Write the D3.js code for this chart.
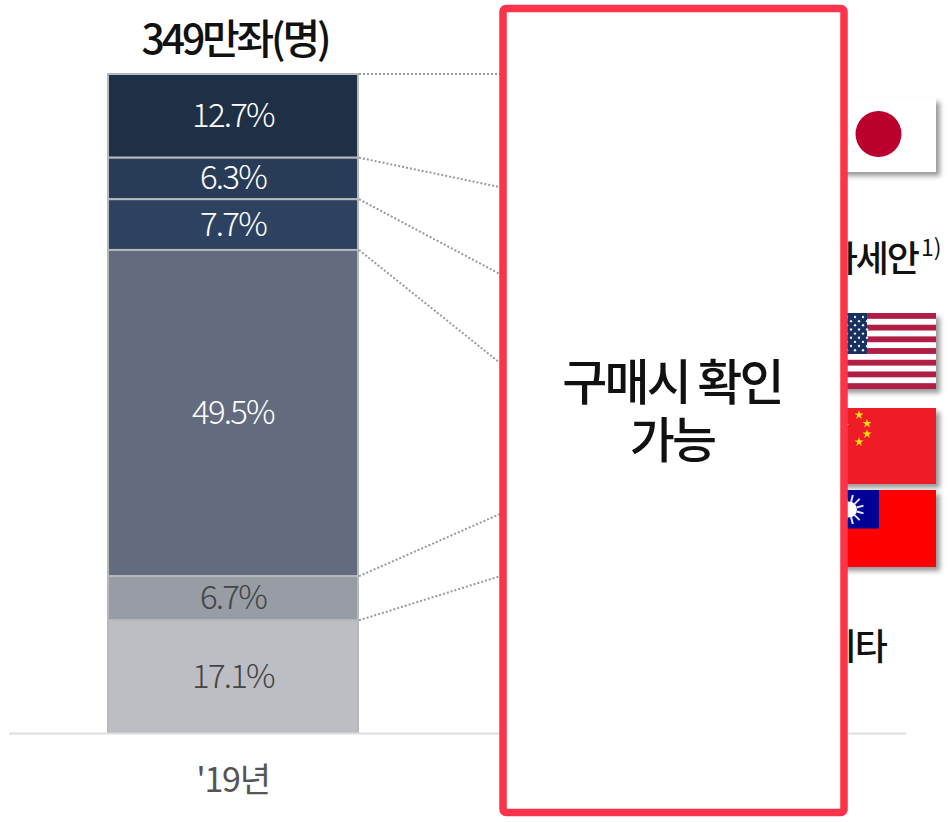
<!DOCTYPE html>
<html>
<head>
<meta charset="utf-8">
<script src="https://cdn.jsdelivr.net/npm/d3@7"></script>
<style>
  body { margin: 0; background: #fff; }
  text { font-family: "Noto Sans CJK KR", "Noto Sans", sans-serif; }
</style>
</head>
<body>
<div id="chart"></div>
<script>
// values, top segment first
var years = ["'19년"];
var segments = ["s1", "s2", "s3", "s4", "s5", "s6"];
var shares = [12.7, 6.3, 7.7, 49.5, 6.7, 17.1];
var segmentColors = ["#1f2f45", "#283b57", "#2d4260", "#626c7e", "#989ca5", "#bdbec3"];
var labelColors = ["#fff", "#fff", "#fff", "#fff", "#444", "#444"];
var totalLabel = "349만좌(명)";
// where the dotted lines land on the covered bar (cumulative %)
var connectorFrom = [0, 12.7, 19, 26.7, 76.2, 82.9];
var connectorTo = [0, 17.1, 30.2, 43.6, 66.9, 76.3];
var coverText = ["구매시 확인", "가능"];

var width = 952, height = 822;

var svg = d3.select("#chart")
  .append("svg")
    .attr("width", width)
    .attr("height", height)
    .style("display", "block");

var defs = svg.append("defs");
var shadow = defs.append("filter").attr("id", "flagShadow")
  .attr("x", "-10%").attr("y", "-10%").attr("width", "125%").attr("height", "130%");
shadow.append("feDropShadow")
  .attr("dx", 4).attr("dy", 4).attr("stdDeviation", 2.5)
  .attr("flood-color", "#000").attr("flood-opacity", 0.4);

var x = d3.scaleBand().domain(years).range([108, 358]);
var y = d3.scaleLinear().domain([0, 100]).range([74, 733]);

// stacked bar
var row = {};
segments.forEach(function(s, i) { row[s] = shares[i]; });
var stacked = d3.stack().keys(segments)([row]);

var bars = svg.append("g");
bars.selectAll("rect")
  .data(stacked)
  .enter()
  .append("rect")
    .attr("x", x(years[0]))
    .attr("y", function(d) { return y(d[0][0]); })
    .attr("width", x.bandwidth())
    .attr("height", function(d) { return y(d[0][1]) - y(d[0][0]); })
    .attr("fill", function(d, i) { return segmentColors[i]; })
    .attr("stroke", "#b7b8bc")
    .attr("stroke-width", 2);

bars.selectAll("text")
  .data(stacked)
  .enter()
  .append("text")
    .attr("x", x(years[0]) + x.bandwidth() / 2)
    .attr("y", function(d) { return (y(d[0][0]) + y(d[0][1])) / 2 + 11; })
    .attr("text-anchor", "middle")
    .attr("font-size", 33)
    .attr("font-weight", 300)
    .attr("letter-spacing", -1.8)
    .attr("fill", function(d, i) { return labelColors[i]; })
    .text(function(d, i) { return shares[i].toFixed(1) + "%"; });

// dotted connectors
svg.append("g").selectAll("line")
  .data(connectorFrom)
  .enter()
  .append("line")
    .attr("x1", 359)
    .attr("x2", 505)
    .attr("y1", function(d) { return y(d); })
    .attr("y2", function(d, i) {
      var a = y(d), b = y(connectorTo[i]);
      return a + (b - a) * (505 - 359) / (498 - 359);
    })
    .attr("stroke", "#999")
    .attr("stroke-width", 2)
    .attr("stroke-dasharray", "2 2");

// baseline and year label
svg.append("line")
  .attr("x1", 9).attr("x2", 906)
  .attr("y1", 733.5).attr("y2", 733.5)
  .attr("stroke", "#dcdde0")
  .attr("stroke-width", 2);

var xAxis = svg.append("g")
  .attr("transform", "translate(0,733)")
  .call(d3.axisBottom(x).tickSize(0).tickPadding(35));
xAxis.select(".domain").remove();
xAxis.selectAll("text")
  .attr("font-family", '"Noto Sans CJK KR", sans-serif')
  .attr("font-size", 34)
  .attr("font-weight", 400)
  .attr("letter-spacing", -1.2)
  .attr("fill", "#555");

svg.append("text")
  .attr("x", 235).attr("y", 54)
  .attr("text-anchor", "middle")
  .attr("font-size", 41)
  .attr("font-weight", 500)
  .attr("letter-spacing", -3.2)
  .attr("fill", "#111")
  .text(totalLabel);

// flags
var flagW = 116;

var japan = svg.append("g").attr("filter", "url(#flagShadow)");
japan.append("rect").attr("x", 820).attr("y", 98).attr("width", flagW).attr("height", 74).attr("fill", "#fff");
japan.append("circle").attr("cx", 878.5).attr("cy", 134).attr("r", 23).attr("fill", "#bc002d");

var usa = svg.append("g");
usa.append("rect").attr("x", 820).attr("y", 313).attr("width", flagW).attr("height", 76)
  .attr("fill", "#fff").attr("filter", "url(#flagShadow)");
d3.range(7).forEach(function(i) {
  usa.append("rect")
    .attr("x", 820).attr("width", flagW)
    .attr("y", 313 + i * 2 * 76 / 13).attr("height", 76 / 13)
    .attr("fill", "#b01e45");
});
usa.append("rect").attr("x", 820).attr("y", 313).attr("width", 47).attr("height", 41).attr("fill", "#17305f");
d3.range(9).forEach(function(r) {
  d3.range(6).forEach(function(c) {
    usa.append("circle")
      .attr("cx", 823 + c * 8 + (r % 2 ? 4 : 0))
      .attr("cy", 317 + r * 4.15)
      .attr("r", 1.2)
      .attr("fill", "#e6eaf2");
  });
});

var china = svg.append("g");
china.append("rect").attr("x", 820).attr("y", 408).attr("width", flagW).attr("height", 76)
  .attr("fill", "#ee1c25").attr("filter", "url(#flagShadow)");
var star = d3.symbol().type(d3.symbolStar);
[[859, 415], [867, 423.5], [867, 434], [859, 442]].forEach(function(p) {
  china.append("path")
    .attr("d", star.size(26)())
    .attr("transform", "translate(" + p[0] + "," + p[1] + ")")
    .attr("fill", "#ffe600");
});
china.append("path")
  .attr("d", star.size(500)())
  .attr("transform", "translate(829,430.5)")
  .attr("fill", "#ffe600");

var taiwan = svg.append("g");
taiwan.append("rect").attr("x", 820).attr("y", 490).attr("width", flagW).attr("height", 77)
  .attr("fill", "#fe0000").attr("filter", "url(#flagShadow)");
taiwan.append("rect").attr("x", 820).attr("y", 490).attr("width", 59).attr("height", 38.5).attr("fill", "#000095");
d3.range(12).forEach(function(i) {
  var a = i * Math.PI / 6 + Math.PI / 12;
  taiwan.append("line")
    .attr("x1", 849 + 8 * Math.cos(a)).attr("y1", 509.5 + 8 * Math.sin(a))
    .attr("x2", 849 + 15 * Math.cos(a)).attr("y2", 509.5 + 15 * Math.sin(a))
    .attr("stroke", "#e8e8ff").attr("stroke-width", 2);
});
taiwan.append("circle").attr("cx", 849).attr("cy", 509.5).attr("r", 8).attr("fill", "#fff");

// region labels, partly hidden by the cover box
svg.append("text")
  .attr("x", 918).attr("y", 272)
  .attr("text-anchor", "end")
  .attr("font-size", 36)
  .attr("font-weight", 500)
  .attr("letter-spacing", -2)
  .attr("fill", "#111")
  .text("아세안");
svg.append("text")
  .attr("x", 921).attr("y", 256)
  .attr("font-size", 23)
  .attr("fill", "#111")
  .text("1)");
svg.append("text")
  .attr("x", 886).attr("y", 660)
  .attr("text-anchor", "end")
  .attr("font-size", 36)
  .attr("font-weight", 500)
  .attr("letter-spacing", -2)
  .attr("fill", "#111")
  .text("기타");

// red cover box
svg.append("rect")
  .attr("x", 503).attr("y", 8.5)
  .attr("width", 341).attr("height", 804)
  .attr("rx", 3)
  .attr("fill", "#fff")
  .attr("stroke", "#fd334b")
  .attr("stroke-width", 7.5);

svg.append("text")
  .attr("y", 400)
  .attr("text-anchor", "middle")
  .attr("font-size", 49)
  .attr("font-weight", 500)
  .attr("letter-spacing", -2.8)
  .attr("fill", "#111")
  .selectAll("tspan")
  .data(coverText)
  .enter()
  .append("tspan")
    .attr("x", 672)
    .attr("dy", function(d, i) { return i ? 58 : 0; })
    .text(function(d) { return d; });
</script>
</body>
</html>
